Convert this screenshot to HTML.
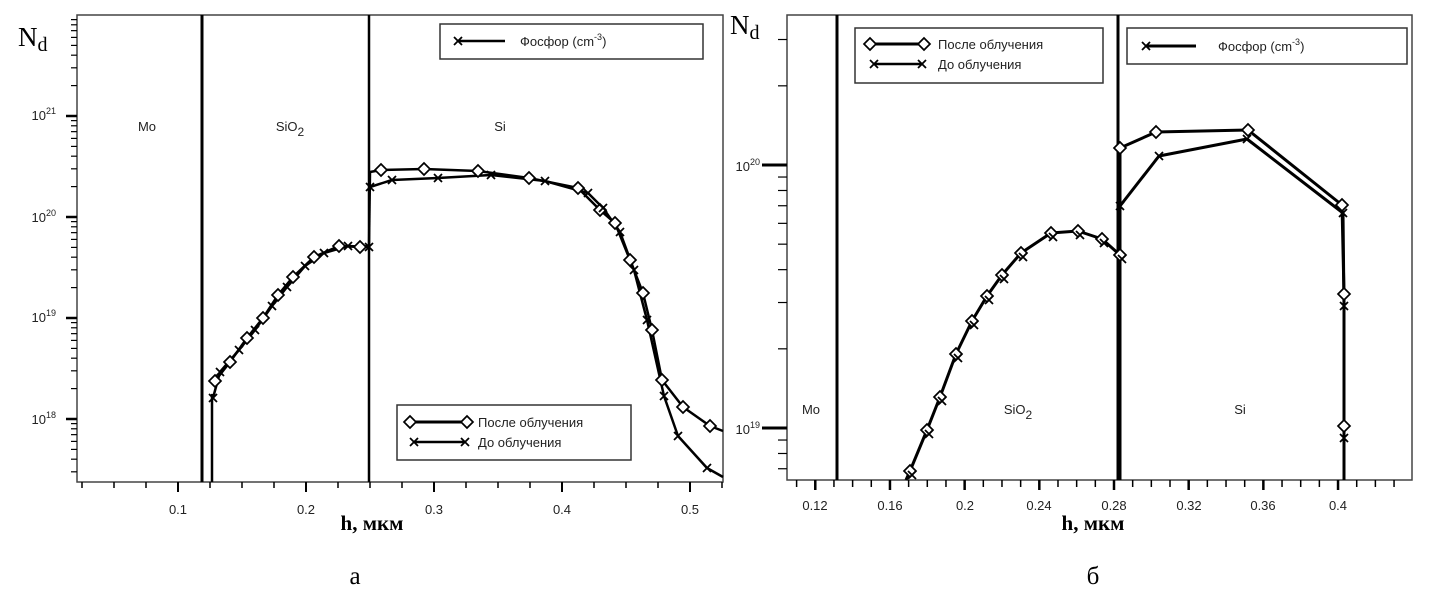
<!DOCTYPE html>
<html><head><meta charset="utf-8"><style>
body{margin:0;background:#fff;width:1429px;height:600px;overflow:hidden}
svg{display:block}
.t{font-family:"Liberation Sans",sans-serif;font-size:13px;fill:#222}
.s{font-family:"Liberation Serif",serif}
</style></head><body>
<svg id="g" width="1429" height="600" xmlns="http://www.w3.org/2000/svg">
<rect width="1429" height="600" fill="#fff"/>
<rect x="77" y="15" width="646" height="467" fill="none" stroke="#444" stroke-width="1.5"/>
<line x1="202" y1="15" x2="202" y2="482" stroke="#000" stroke-width="3"/>
<line x1="369" y1="15" x2="369" y2="482" stroke="#000" stroke-width="2.5"/>
<text class="t" x="147" y="131" text-anchor="middle" font-size="16">Mo</text>
<text class="t" x="290" y="131" text-anchor="middle" font-size="16">SiO<tspan font-size="12" dy="5">2</tspan></text>
<text class="t" x="500" y="131" text-anchor="middle" font-size="16">Si</text>
<text class="s" x="18" y="46" font-size="27" fill="#000">N<tspan font-size="20" dy="5">d</tspan></text>
<g class="t" text-anchor="end" font-size="12">
<text x="56" y="120">10<tspan font-size="9" dy="-6">21</tspan></text>
<text x="56" y="222">10<tspan font-size="9" dy="-6">20</tspan></text>
<text x="56" y="322">10<tspan font-size="9" dy="-6">19</tspan></text>
<text x="56" y="424">10<tspan font-size="9" dy="-6">18</tspan></text>
</g>
<g class="t" text-anchor="middle" font-size="14">
<text x="178" y="514">0.1</text><text x="306" y="514">0.2</text><text x="434" y="514">0.3</text><text x="562" y="514">0.4</text><text x="690" y="514">0.5</text>
</g>
<text class="s" x="372" y="530" text-anchor="middle" font-size="21" font-weight="bold" fill="#000">h, мкм</text>
<text class="s" x="355" y="584" text-anchor="middle" font-size="25" fill="#000">а</text>
<rect x="440" y="24" width="263" height="35" fill="#fff" stroke="#333" stroke-width="1.5"/>
<line x1="458" y1="41" x2="505" y2="41" stroke="#000" stroke-width="2.5"/>
<text class="t" x="520" y="46">Фосфор (cm<tspan font-size="9" dy="-6">-3</tspan><tspan dy="6">)</tspan></text>
<rect x="397" y="405" width="234" height="55" fill="#fff" stroke="#333" stroke-width="1.5"/>
<line x1="410" y1="422" x2="467" y2="422" stroke="#000" stroke-width="3"/>
<text class="t" x="478" y="427">После облучения</text>
<line x1="414" y1="442" x2="465" y2="442" stroke="#000" stroke-width="2.5"/>
<text class="t" x="478" y="447">До облучения</text>
<rect x="787" y="15" width="625" height="465" fill="none" stroke="#444" stroke-width="1.5"/>
<line x1="837" y1="15" x2="837" y2="480" stroke="#000" stroke-width="3"/>
<line x1="1118" y1="15" x2="1118" y2="480" stroke="#000" stroke-width="3"/>
<text class="t" x="811" y="414" text-anchor="middle" font-size="16">Mo</text>
<text class="t" x="1018" y="414" text-anchor="middle" font-size="16">SiO<tspan font-size="12" dy="5">2</tspan></text>
<text class="t" x="1240" y="414" text-anchor="middle" font-size="16">Si</text>
<text class="s" x="730" y="34" font-size="27" fill="#000">N<tspan font-size="20" dy="5">d</tspan></text>
<g class="t" text-anchor="end" font-size="12">
<text x="760" y="171">10<tspan font-size="9" dy="-6">20</tspan></text>
<text x="760" y="434">10<tspan font-size="9" dy="-6">19</tspan></text>
</g>
<g class="t" text-anchor="middle" font-size="14">
<text x="815" y="510">0.12</text><text x="890" y="510">0.16</text><text x="965" y="510">0.2</text><text x="1039" y="510">0.24</text><text x="1114" y="510">0.28</text><text x="1189" y="510">0.32</text><text x="1263" y="510">0.36</text><text x="1338" y="510">0.4</text>
</g>
<text class="s" x="1093" y="530" text-anchor="middle" font-size="21" font-weight="bold" fill="#000">h, мкм</text>
<text class="s" x="1093" y="584" text-anchor="middle" font-size="25" fill="#000">б</text>
<rect x="855" y="28" width="248" height="55" fill="#fff" stroke="#333" stroke-width="1.5"/>
<line x1="870" y1="44" x2="924" y2="44" stroke="#000" stroke-width="3"/>
<text class="t" x="938" y="49" font-size="14">После облучения</text>
<line x1="874" y1="64" x2="922" y2="64" stroke="#000" stroke-width="2.5"/>
<text class="t" x="938" y="69" font-size="14">До облучения</text>
<rect x="1127" y="28" width="280" height="36" fill="#fff" stroke="#333" stroke-width="1.5"/>
<line x1="1146" y1="46" x2="1196" y2="46" stroke="#000" stroke-width="3"/>
<text class="t" x="1218" y="51" font-size="14">Фосфор  (cm<tspan font-size="9" dy="-6">-3</tspan><tspan dy="6">)</tspan></text>
</svg>
<script>
var g=document.getElementById('g'),NS='http://www.w3.org/2000/svg';
function el(t,a){var e=document.createElementNS(NS,t);for(var k in a)e.setAttribute(k,a[k]);g.appendChild(e);return e}
function line(x1,y1,x2,y2,w){el('line',{x1:x1,y1:y1,x2:x2,y2:y2,stroke:'#000','stroke-width':w||1.5})}
function poly(p,w){el('polyline',{points:p.map(function(q){return q.join(',')}).join(' '),fill:'none',stroke:'#000','stroke-width':w||2,'stroke-linejoin':'round'})}
function dia(x,y){el('path',{d:'M'+(x-6)+','+y+'L'+x+','+(y-6)+'L'+(x+6)+','+y+'L'+x+','+(y+6)+'Z',fill:'#fff',stroke:'#000','stroke-width':1.7})}
function cross(x,y){line(x-4,y-4,x+4,y+4,1.8);line(x-4,y+4,x+4,y-4,1.8)}
dia(410,422);dia(467,422);cross(414,442);cross(465,442);cross(458,41);
dia(870,44);dia(924,44);cross(874,64);cross(922,64);cross(1146,46);
for(var d=17;d<=21;d++)for(var m=1;m<10;m++){var y=217-(d+Math.log10(m)-20)*101;if(y<15||y>482)continue;line(77,y,m==1?66:71,y,m==1?2.5:1.2)}
for(var v=0.025;v<0.53;v+=0.025){var x=178+(v-0.1)*1280;if(x<77||x>723)continue;var maj=Math.abs(v*10-Math.round(v*10))<0.01;line(x,482,x,maj?492:488,maj?2:1.5)}
for(var d=18;d<=20;d++)for(var m=1;m<10;m++){var y=165-(d+Math.log10(m)-20)*263;if(y<15||y>480)continue;line(787,y,m==1?762:778,y,m==1?3:1.2)}
for(var i=11;i<=44;i++){var v=i/100,x=1114+(v-0.28)*1867;if(x<787||x>1412)continue;var maj=i%4==0;line(x,480,x,maj?490:487,maj?2.5:1.5)}
var A1=[[215,381],[230,362],[247,338],[263,318],[278,295],[293,277],[314,257],[339,246],[360,247],[369,246]];
var A2=[[370,172],[381,170],[424,169],[478,171],[529,178],[578,188],[600,210],[615,223],[630,260],[643,293],[652,330],[662,380],[683,407],[710,426],[723,431]];
var B1=[[213,398],[220,372],[239,350],[255,330],[272,306],[287,287],[305,266],[324,253],[348,246],[369,247]];
var B2=[[370,187],[392,180],[438,178],[491,175],[545,181],[588,193],[603,208],[620,232],[634,270],[647,320],[664,396],[678,436],[707,468],[723,477]];
poly([[212,482],[212,395]].concat(B1),2.5);poly([[213,381]].concat(A1),2.5);
poly(B2,2.5);poly(A2,2.5);line(369,247,370,172,2.5);
A1.slice(0,9).concat(A2.slice(1,14)).forEach(function(p){dia(p[0],p[1])});
B1.concat(B2.slice(0,13)).forEach(function(p){cross(p[0],p[1])});
var C=[[910,471],[927,430],[940,397],[956,354],[972,321],[987,296],[1002,275],[1021,253],[1051,233],[1078,231],[1102,239],[1120,255]];
var Ca=[[1120,148],[1156,132],[1248,130],[1342,205],[1344,294],[1344,426],[1344,480]];
var Db=[[1120,206],[1159,156],[1247,139],[1343,213],[1344,306],[1344,438],[1344,480]];
poly([[906,480]].concat(C),3);poly([[1120,255]].concat(Ca),3);poly([[1120,480]].concat(Db),3);
C.forEach(function(p){dia(p[0],p[1]);cross(p[0]+2,p[1]+4)});
Ca.slice(0,6).forEach(function(p){dia(p[0],p[1])});
Db.slice(0,6).forEach(function(p){cross(p[0],p[1])});
</script>
</body></html>
